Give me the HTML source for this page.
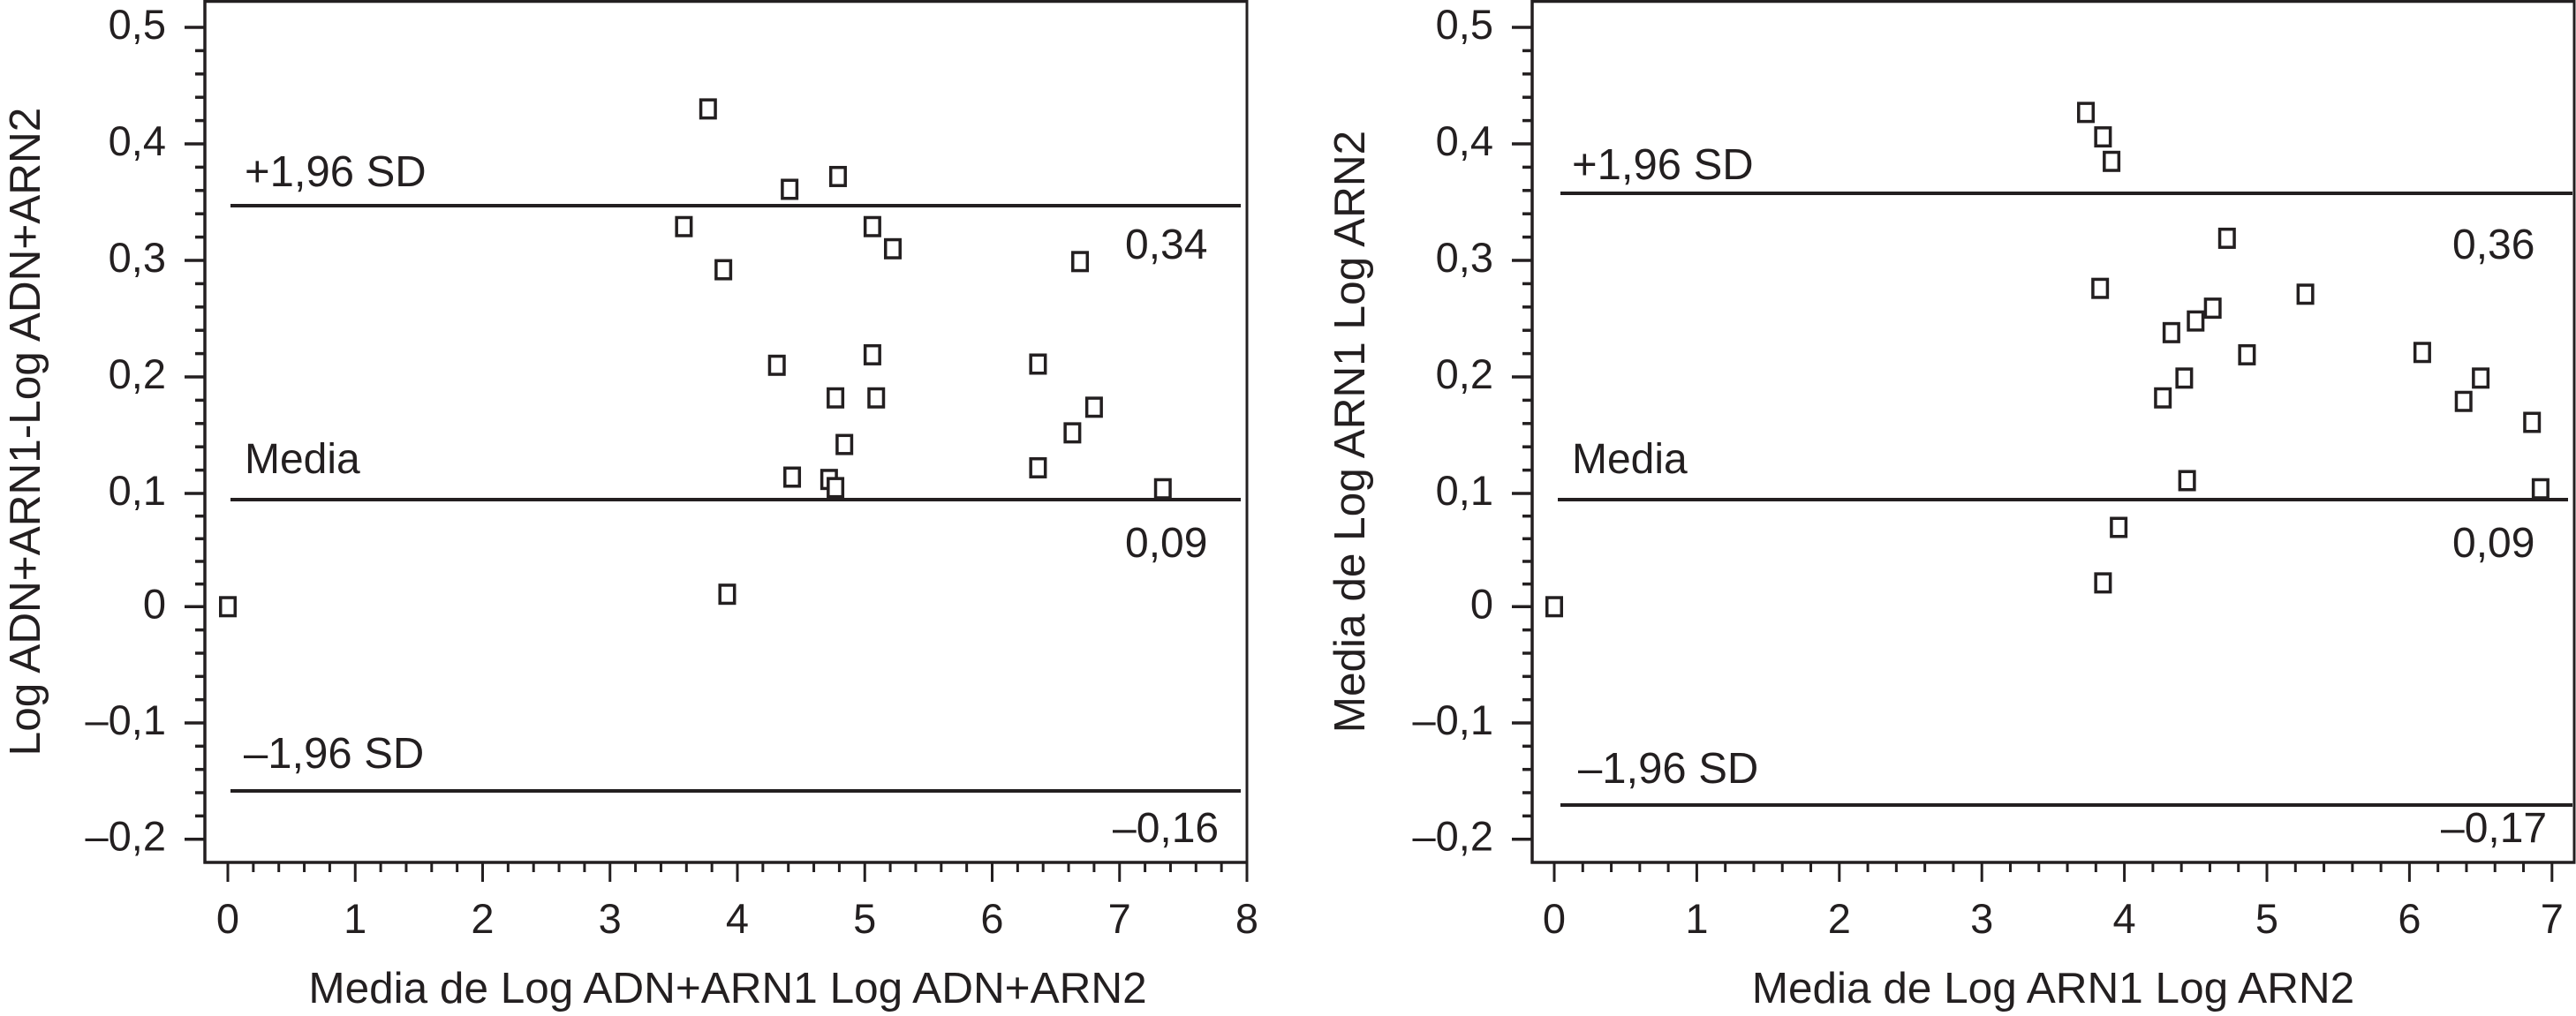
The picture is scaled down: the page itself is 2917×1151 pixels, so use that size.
<!DOCTYPE html>
<html lang="es">
<head>
<meta charset="utf-8">
<title>Gráficos de Bland-Altman</title>
<style>
html,body{margin:0;padding:0;background:#fff;}
body{width:2917px;height:1151px;overflow:hidden;}
svg{display:block;}
text{font-family:"Liberation Sans",Arial,sans-serif;fill:#231f20;}
</style>
</head>
<body>
<svg id="chart" xmlns="http://www.w3.org/2000/svg" width="2917" height="1151" viewBox="0 0 2917 1151"></svg>
<script>
// Shared value axis
const yTickValues = [0.5, 0.4, 0.3, 0.2, 0.1, 0, -0.1, -0.2];
const yTickLabels = ['0,5', '0,4', '0,3', '0,2', '0,1', '0', '–0,1', '–0,2'];

// Left panel data
const leftXTickLabels = ['0', '1', '2', '3', '4', '5', '6', '7', '8'];
const leftMeanValues = [3.77, 4.79, 4.41, 3.58, 5.06, 5.22, 6.69, 3.89, 5.06, 4.31, 6.36, 4.77, 5.09, 6.80, 6.63, 4.84, 4.43, 6.36, 4.72, 4.77, 7.34, 3.92, 0];
const leftDiffValues = [0.430, 0.372, 0.361, 0.329, 0.329, 0.310, 0.299, 0.292, 0.219, 0.210, 0.211, 0.182, 0.182, 0.174, 0.152, 0.142, 0.114, 0.122, 0.112, 0.105, 0.104, 0.011, 0];
const leftRefValues = [0.347, 0.0945, -0.1585];

// Right panel data
const rightXTickLabels = ['0', '1', '2', '3', '4', '5', '6', '7'];
const rightMeanValues = [3.73, 3.85, 3.91, 4.72, 3.83, 5.27, 4.62, 4.50, 4.33, 4.86, 6.09, 6.50, 4.42, 4.27, 6.38, 6.86, 4.44, 6.92, 3.96, 3.85, 0];
const rightDiffValues = [0.427, 0.406, 0.385, 0.319, 0.276, 0.271, 0.259, 0.248, 0.238, 0.219, 0.221, 0.199, 0.199, 0.182, 0.179, 0.161, 0.111, 0.104, 0.070, 0.021, 0];
const rightRefValues = [0.3576, 0.0945, -0.1706];

const refNames = ['upper-limit', 'mean', 'lower-limit'];
const NS = 'http://www.w3.org/2000/svg';
const INK = '#231f20';
const root = document.getElementById('chart');

// The printed axis is not perfectly linear: its 0–0,1 interval is slightly compressed.
function yScale(v) {
  if (v >= 0.1) return 559 - 1320 * (v - 0.1);
  if (v >= 0) return 687.3 - 1283 * v;
  return 687.3 - 1317 * v;
}

function line(parent, x1, y1, x2, y2, w, name) {
  const el = document.createElementNS(NS, 'line');
  el.setAttribute('x1', x1);
  el.setAttribute('y1', y1);
  el.setAttribute('x2', x2);
  el.setAttribute('y2', y2);
  el.setAttribute('stroke', INK);
  el.setAttribute('stroke-width', w);
  
  
  parent.appendChild(el);
  return el;
}

function label(parent, str, x, y, anchor, size, name, rotate) {
  const el = document.createElementNS(NS, 'text');
  el.setAttribute('x', x);
  el.setAttribute('y', y);
  el.setAttribute('text-anchor', anchor);
  el.setAttribute('font-size', size);
  if (rotate) el.setAttribute('transform', 'rotate(-90 ' + x + ' ' + y + ')');
  el.textContent = str;
  
  
  parent.appendChild(el);
  return el;
}

function drawPanel(p) {
  const g = document.createElementNS(NS, 'g');
  
  
  root.appendChild(g);

  const xScale = function (v) { return p.x0 + p.unit * v; };
  const top = 1.5, bottom = 977;

  // Frame
  line(g, p.left, top, p.right + 1.5, top, 3.5, 'frame-top');
  line(g, p.left, 0, p.left, bottom + 1.5, 3.5, 'y-axis-line');
  line(g, p.left - 1.5, bottom, p.right + 1.5, bottom, 3.5, 'x-axis-line');
  line(g, p.right, 0, p.right, p.rightTickEnd, 3, 'frame-right');

  // Y ticks
  yTickValues.forEach(function (v, i) {
    const y = yScale(v);
    line(g, p.left - 23, y, p.left, y, 3.5, 'y-major-tick');
    label(g, yTickLabels[i], p.yLabelX, y + 13, 'end', 47, 'y-tick-label');
    if (i < yTickValues.length - 1) {
      for (let k = 1; k < 5; k++) {
        const my = yScale(v + (yTickValues[i + 1] - v) * k / 5);
        line(g, p.left - 11, my, p.left, my, 3.5, 'y-minor-tick');
      }
    }
  });

  // X ticks
  p.xLabels.forEach(function (t, i) {
    const x = xScale(i);
    line(g, x, bottom, x, 999, 3, 'x-major-tick');
    label(g, t, x, 1057, 'middle', 47, 'x-tick-label');
    if (i < p.xLabels.length - 1) {
      for (let k = 1; k < 5; k++) {
        const mx = xScale(i + k / 5);
        line(g, mx, bottom, mx, 988, 3, 'x-minor-tick');
      }
    }
  });

  // Reference lines
  p.refs.forEach(function (v, i) {
    const y = yScale(v);
    line(g, p.refStart[i], y, p.refEnd[i], y, 4, 'reference-line-' + refNames[i]);
  });

  // Points
  p.xs.forEach(function (mv, i) {
    const el = document.createElementNS(NS, 'rect');
    el.setAttribute('x', xScale(mv) - 8.25);
    el.setAttribute('y', yScale(p.ys[i]) - 10.25);
    el.setAttribute('width', 16.5);
    el.setAttribute('height', 20.5);
    el.setAttribute('fill', '#fff');
    el.setAttribute('stroke', INK);
    el.setAttribute('stroke-width', 3.5);
    
    
    g.appendChild(el);
  });

  // Annotations
  p.notes.forEach(function (n) {
    label(g, n[0], n[1], n[2], 'start', n[4], n[3]);
  });

  // Titles
  label(g, p.xTitle, p.xTitleX, 1136, 'middle', 49.5, 'x-axis-title');
  label(g, p.yTitle, p.yTitleX, p.yTitleY, 'middle', 49.5, 'y-axis-title', true);
}

drawPanel({
  name: 'left-panel-adn-arn',
  left: 232, right: 1412, rightTickEnd: 999, x0: 258, unit: 144.25, yLabelX: 188,
  xLabels: leftXTickLabels, xs: leftMeanValues, ys: leftDiffValues, refs: leftRefValues,
  refStart: [261, 261, 261], refEnd: [1405, 1405, 1405],
  xTitle: 'Media de Log ADN+ARN1 Log ADN+ARN2', xTitleX: 824,
  yTitle: 'Log ADN+ARN1-Log ADN+ARN2', yTitleX: 45, yTitleY: 489,
  notes: [
    ['+1,96 SD', 277, 211, 'upper-limit-label', 49],
    ['Media', 277, 536, 'mean-label', 48],
    ['–1,96 SD', 276, 870, 'lower-limit-label', 49],
    ['0,34', 1274, 293, 'upper-limit-value', 48],
    ['0,09', 1274, 631, 'mean-value', 48],
    ['–0,16', 1260, 954, 'lower-limit-value', 48]
  ]
});

drawPanel({
  name: 'right-panel-arn',
  left: 1735, right: 2915, rightTickEnd: 978, x0: 1760, unit: 161.4, yLabelX: 1691,
  xLabels: rightXTickLabels, xs: rightMeanValues, ys: rightDiffValues, refs: rightRefValues,
  refStart: [1767, 1764, 1767], refEnd: [2913, 2908, 2913],
  xTitle: 'Media de Log ARN1 Log ARN2', xTitleX: 2325,
  yTitle: 'Media de Log ARN1 Log ARN2', yTitleX: 1545, yTitleY: 489,
  notes: [
    ['+1,96 SD', 1780, 203, 'upper-limit-label', 49],
    ['Media', 1780, 536, 'mean-label', 48],
    ['–1,96 SD', 1787, 887, 'lower-limit-label', 49],
    ['0,36', 2777, 293, 'upper-limit-value', 48],
    ['0,09', 2777, 631, 'mean-value', 48],
    ['–0,17', 2764, 954, 'lower-limit-value', 48]
  ]
});
</script>
</body>
</html>
